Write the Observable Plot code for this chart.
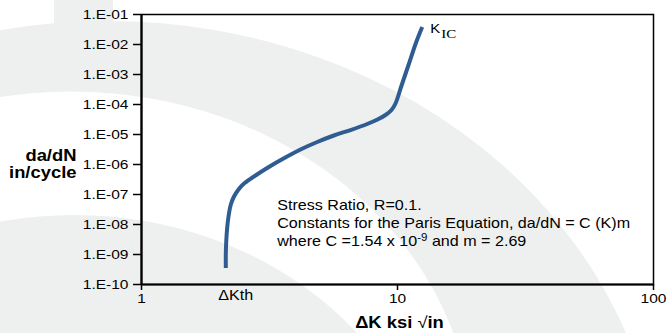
<!DOCTYPE html>
<html>
<head>
<meta charset="utf-8">
<script src="https://cdn.jsdelivr.net/npm/d3@7"></script>
<script src="https://cdn.jsdelivr.net/npm/@observablehq/plot@0.6"></script>
<style>
  body { margin: 0; background: #fff; }
  #chart { position: relative; width: 667px; height: 333px; overflow: hidden; }
  #chart > svg { position: absolute; left: 0; top: 0; }
</style>
</head>
<body>
<div id="chart"></div>
<script>
// Fatigue crack growth curve: stress intensity range vs crack growth rate
const deltaK = [2.135, 2.135, 2.144, 2.162, 2.193, 2.233, 2.298, 2.393, 2.503, 2.714, 3.097, 3.586,
                4.179, 4.857, 5.639, 6.553, 7.614, 8.354, 8.979, 9.475, 9.822, 10.34, 10.99, 11.82, 12.49];
const growthRate = [3.55e-10, 1.08e-9, 2.93e-9, 8.13e-9, 2.15e-8, 4.64e-8, 8.57e-8, 1.47e-7, 2.24e-7, 3.69e-7, 7.65e-7, 1.58e-6,
                    3.16e-6, 5.62e-6, 9.26e-6, 1.41e-5, 2.24e-5, 3.16e-5, 4.47e-5, 6.56e-5, 1.08e-4, 3.98e-4, 1.85e-3, 1.17e-2, 3.83e-2];

// Axis ticks and their labels
const xTicks = [1, 10, 100];
const xTickLabels = ["1", "10", "100"];
const yTicks = [1e-1, 1e-2, 1e-3, 1e-4, 1e-5, 1e-6, 1e-7, 1e-8, 1e-9, 1e-10];
const yTickLabels = ["1.E-01", "1.E-02", "1.E-03", "1.E-04", "1.E-05", "1.E-06", "1.E-07", "1.E-08", "1.E-09", "1.E-10"];

// Paris equation constants shown in the note
const stressRatio = 0.1;
const parisC = "1.54";
const parisCExp = "-9";
const parisM = 2.69;

const xTitle = "ΔK ksi √in";
const yTitle = "da/dN\nin/cycle";
const noteLines = [
  `Stress Ratio, R=${stressRatio}.`,
  "Constants for the Paris Equation, da/dN = C (K)m",
  `where C =${parisC} x 10${parisCExp} and m = ${parisM}`
];
const noteAnchor = {x: 3.39, y: 6.3e-8};

const FONT = "'Liberation Sans', Arial, Helvetica, sans-serif";
const GREY = "#eef0ef";
const BLUE = "#2f5d92";
const STRETCH = 1.15;

const curve = deltaK.map((k, i) => ({k, r: growthRate[i]}));
const start = curve[0];
const end = curve[curve.length - 1];

const W = 667, H = 333;
const chart = d3.select("#chart");

// Background ring emblem
const bg = chart.append("svg").attr("width", W).attr("height", H);
bg.append("rect").attr("x", 54).attr("y", 0).attr("width", 59).attr("height", 45).attr("fill", GREY);
bg.append("ellipse").attr("cx", 107.6).attr("cy", 503).attr("rx", 554).attr("ry", 482).attr("fill", GREY);
bg.append("ellipse").attr("cx", 71).attr("cy", 441).attr("rx", 402).attr("ry", 349.5).attr("fill", "#fff");
bg.append("ellipse").attr("cx", 74).attr("cy", 531).attr("rx", 363).attr("ry", 316).attr("fill", GREY);

const plot = Plot.plot({
  width: W,
  height: H,
  marginLeft: 141,
  marginRight: 14,
  marginTop: 14,
  marginBottom: 49,
  style: {fontFamily: FONT, fontSize: "13px", background: "transparent", color: "#000", overflow: "visible"},
  x: {type: "log", domain: [1, 100]},
  y: {type: "log", domain: [1e-10, 1e-1]},
  marks: [
    Plot.frame({stroke: "#000", strokeWidth: 1.5}),
    Plot.axisY(yTicks, {
      tickSize: 8, tickPadding: 5, strokeWidth: 1.5, label: null, fontSize: 13.5,
      tickFormat: (d) => yTickLabels[yTicks.indexOf(d)]
    }),
    Plot.axisX(xTicks, {
      tickSize: 6, tickPadding: 3, strokeWidth: 1.5, label: null, fontSize: 13.5,
      tickFormat: (d) => xTickLabels[xTicks.indexOf(d)]
    }),
    Plot.ruleX([1], {stroke: "#000", strokeWidth: 2.2}),
    Plot.ruleY([1e-10], {stroke: "#000", strokeWidth: 2.2}),
    Plot.line(curve, {
      x: "k", y: "r", stroke: BLUE, strokeWidth: 4,
      curve: "catmull-rom", strokeLinecap: "butt"
    }),
    // threshold and fracture toughness labels
    Plot.text([start], {x: "k", text: () => "ΔKth", frameAnchor: "bottom", dx: 10, dy: 6, lineAnchor: "top", fontSize: 14}),
    Plot.text([end], {x: "k", y: "r", text: () => "K", textAnchor: "start", dx: 8, dy: 2, fontSize: 13}),
    Plot.text([end], {x: "k", y: "r", text: () => "IC", textAnchor: "start", dx: 19, dy: 7, fontSize: 13, fontFamily: "'Liberation Serif', 'Times New Roman', serif"}),
    // note
    ...noteLines.map((line, i) =>
      Plot.text([noteAnchor], {x: "x", y: "y", text: () => line, textAnchor: "start", lineAnchor: "top", dy: i * 17.7, fontSize: 14})
    ),
    // axis titles
    Plot.text([yTitle], {text: (d) => d, frameAnchor: "left", dx: -65, dy: 28, textAnchor: "end", lineAnchor: "bottom", lineHeight: 1.05, fontWeight: "bold", fontSize: 16}),
    Plot.text([xTitle], {text: (d) => d, frameAnchor: "bottom", dx: 2, dy: 43, lineAnchor: "bottom", fontWeight: "bold", fontSize: 16})
  ]
});

chart.node().appendChild(plot);

const svg = d3.select(plot);

// superscript exponent in the last note line, light radical in the x title
svg.selectAll("text").each(function () {
  const el = d3.select(this);
  const content = this.textContent;
  if (content === noteLines[2]) {
    el.text(null);
    el.append("tspan").text(`where C =${parisC} x 10`);
    el.append("tspan").attr("dy", -5).attr("font-size", 10).text(parisCExp);
    el.append("tspan").attr("dy", 5).text(` and m = ${parisM}`);
  } else if (content === xTitle) {
    el.text(null);
    el.append("tspan").text("ΔK ksi ");
    el.append("tspan").attr("font-weight", "normal").text("√");
    el.append("tspan").text("in");
  }
});

// wide lettering: stretch every label horizontally about its own anchor
svg.selectAll("text").each(function () {
  const t = this.getAttribute("transform") || "";
  const xa = this.getAttribute("x");
  const x0 = xa && /^-?[\d.]+$/.test(xa) ? +xa : 0;
  this.setAttribute("transform", `${t} translate(${x0},0) scale(${STRETCH},1) translate(${-x0},0)`);
});
</script>
</body>
</html>
